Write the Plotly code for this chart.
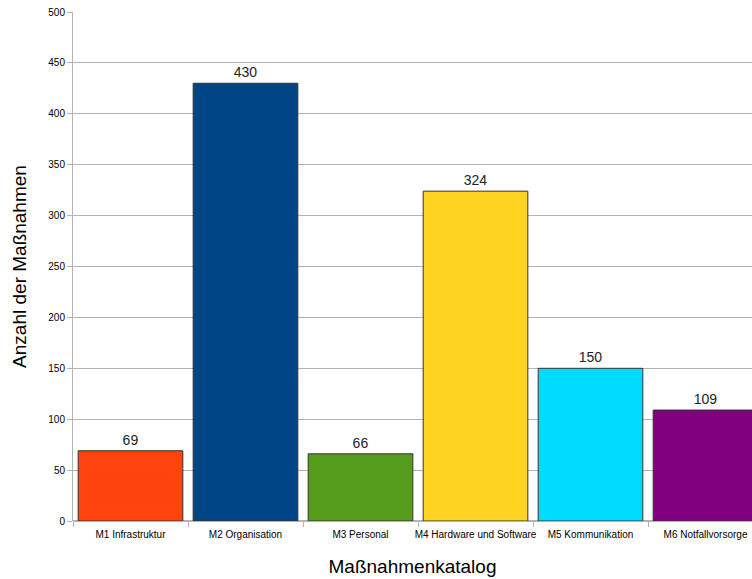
import plotly.graph_objects as go

categories = ["M1 Infrastruktur", "M2 Organisation", "M3 Personal",
              "M4 Hardware und Software", "M5 Kommunikation", "M6 Notfallvorsorge"]
values = [69, 430, 66, 324, 150, 109]
colors = ["#ff420e", "#004586", "#579d1c", "#ffd320", "#00dcff", "#800080"]

fig = go.Figure(go.Bar(
    x=categories, y=values,
    marker=dict(color=colors, line=dict(color="#333333", width=1)),
    width=0.91,
    text=[str(v) for v in values], textposition="outside",
    textfont=dict(family="Liberation Sans", size=14, color="#222222"),
    cliponaxis=False,
))

fig.update_layout(
    width=752, height=579,
    margin=dict(l=73, r=0, t=12, b=58, autoexpand=False),
    paper_bgcolor="white", plot_bgcolor="white",
    font=dict(family="Liberation Sans", color="#000000"),
    showlegend=False,
    bargap=0.09,
)
fig.update_xaxes(
    range=[-0.5, -0.5 + 679/115],
    tickmode="array", tickvals=list(range(6)), ticktext=categories,
    tickangle=0, automargin=False,
    ticks="outside", tickson="boundaries", ticklen=5, tickcolor="#b3b3b3",
    ticklabelstandoff=6,
    tickfont=dict(size=10, color="#000000"),
    showline=False, showgrid=False,
    title=dict(text="Maßnahmenkatalog", font=dict(size=19), standoff=20),
)
fig.update_yaxes(
    range=[0, 500], dtick=50, automargin=False,
    ticks="outside", ticklen=5, tickcolor="#b3b3b3",
    tickfont=dict(size=10, color="#000000"),
    showgrid=True, gridcolor="#b3b3b3", gridwidth=1,
    showline=True, linecolor="#b3b3b3", linewidth=1,
    zeroline=True, zerolinecolor="#b3b3b3",
    title=dict(text="Anzahl der Maßnahmen", font=dict(size=19), standoff=16),
)

fig.write_html("out.html")
